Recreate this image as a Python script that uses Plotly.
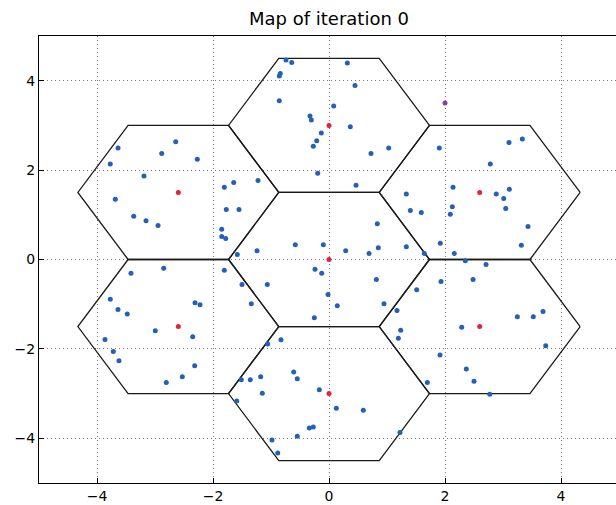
import numpy as np
import plotly.graph_objects as go

# Cell centres of the hexagonal map (flat-top hexagons, circumradius sqrt(3))
center_x = [0.0, 0.0, 0.0, -2.598, -2.598, 2.598, 2.598]
center_y = [0.0, 3.0, -3.0, 1.5, -1.5, 1.5, -1.5]
hex_radius = 3 ** 0.5

# Sample points scattered over the map
pts_x = [
    -3.638, -2.643, -2.884, -3.771, -2.271, -3.190, -3.684, -3.367, -3.155, -2.948,
    -1.805, -1.643, -1.771, -1.552, -1.850, -1.850, -1.781, -1.581, -2.850, -1.805,
    -0.741, -0.643, 0.316, -0.840, -0.857, 0.448, -0.857, 0.081, -0.328, -0.305,
    0.367, -0.133, -0.212, -0.271, 1.029, 0.724, -0.195, 0.466, 1.333, -1.224,
    1.902, 3.103, 3.333, 2.781, 2.138, 2.884, 3.012, 3.109, 1.402, 1.591,
    2.126, 2.091, 3.047, 3.431, 1.333, 1.643, 1.919, 2.160, 3.316, 2.350, 2.707,
    0.833, -0.581, -0.098, -1.241, 0.288, 0.690, 0.850, -0.241, -0.126, -1.500,
    -1.064, 0.816, 1.512, -0.017, -1.340, 0.143, 0.948, 1.172, -0.253, 1.236,
    1.195, -0.828,
    -3.414, -3.771, -3.638, -3.478, -2.310, -2.224, -2.995, -2.350, -3.862, -3.719,
    -3.621, -2.316, -2.529, -2.805, -1.591,
    1.931, 2.483, 3.690, 3.247, 3.522, 2.288, 3.736, 1.914, 2.367, 1.695, 2.500, 2.771,
    -1.057, -0.609, -0.547, -1.512, -1.357, -1.178, -1.150, -0.167, 0.126, 0.591,
    -0.340, -0.271, -0.547, 1.224, -0.983, -0.884,
]
pts_y = [
    2.496, 2.637, 2.369, 2.139, 2.241, 1.870, 1.347, 0.968, 0.865, 0.760,
    1.616, 1.721, 1.117, 1.117, 0.677, 0.514, 0.469, 0.112, -0.194, -0.239,
    4.462, 4.409, 4.395, 4.163, 4.105, 3.895, 3.553, 3.435, 3.211, 3.122,
    2.972, 2.831, 2.659, 2.532, 2.496, 2.369, 1.928, 1.660, 1.468, 1.765,
    2.496, 2.615, 2.697, 2.139, 1.616, 1.468, 1.363, 1.571, 1.095, 1.050,
    1.178, 1.012, 1.140, 0.737, 0.284, 0.134, 0.364, 0.134, 0.320, -0.029, -0.112,
    0.798, 0.328, 0.328, 0.194, 0.194, 0.134, 0.261, -0.217, -0.306, -0.559,
    -0.559, -0.447, -0.677, -0.782, -0.990, -1.035, -0.990, -1.140, -1.303, -1.580,
    -1.759, -1.794,
    -0.306, -0.887, -1.117, -1.222, -0.968, -1.012, -1.593, -1.727, -1.788, -2.056,
    -2.264, -2.375, -2.621, -2.749, -3.166,
    -0.492, -0.447, -1.162, -1.281, -1.281, -1.513, -1.929, -2.139, -2.451, -2.749, -2.726, -3.017,
    -1.893, -2.518, -2.666, -2.688, -2.688, -2.621, -2.994, -2.912, -3.330, -3.374,
    -3.770, -3.748, -3.955, -3.873, -4.038, -4.329,
]

# Highlighted point
special_x = [2.0]
special_y = [3.5]

tick_vals = [-4, -2, 0, 2, 4]
title_text = "Map of iteration 0"

fig = go.Figure()

# Hexagon outlines
angles = np.deg2rad(np.arange(0, 420, 60))
for cx, cy in zip(center_x, center_y):
    fig.add_trace(go.Scatter(
        x=cx + hex_radius * np.cos(angles),
        y=cy + hex_radius * np.sin(angles),
        mode="lines",
        line=dict(color="#1a1a1a", width=1.3),
        hoverinfo="skip",
        showlegend=False,
    ))

fig.add_trace(go.Scatter(
    x=pts_x, y=pts_y, mode="markers",
    marker=dict(color="#2361b8", size=5, line=dict(width=0)),
    showlegend=False,
))
fig.add_trace(go.Scatter(
    x=center_x, y=center_y, mode="markers",
    marker=dict(color="#e8203a", size=5, line=dict(width=0)),
    showlegend=False,
))
fig.add_trace(go.Scatter(
    x=special_x, y=special_y, mode="markers",
    marker=dict(color="#8a3fa0", size=5, line=dict(width=0)),
    showlegend=False,
))

axis_common = dict(
    tickvals=tick_vals,
    showgrid=True,
    gridcolor="#7a7a7a",
    griddash="1px,3px",
    gridwidth=1,
    zeroline=False,
    showline=True,
    linecolor="black",
    linewidth=1.3,
    ticks="inside",
    ticklen=5,
    tickcolor="black",
    tickfont=dict(family="DejaVu Sans", size=14, color="black"),
)

fig.update_xaxes(range=[-5, 4.948], mirror=True, **axis_common)
fig.update_yaxes(range=[-5, 5], mirror=False, **axis_common)

fig.update_layout(
    width=616,
    height=505,
    margin=dict(l=39, r=0, t=36, b=22),
    paper_bgcolor="white",
    plot_bgcolor="white",
    title=dict(
        text=title_text,
        x=329 / 616, xref="container", xanchor="center",
        y=1 - 19 / 505, yref="container", yanchor="middle",
        font=dict(family="DejaVu Sans", size=18, color="black"),
    ),
)

fig.write_html("out.html")
